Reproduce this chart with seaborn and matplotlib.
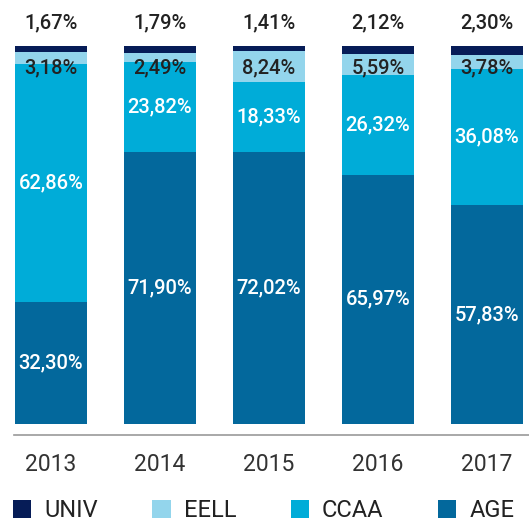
import matplotlib
matplotlib.use("Agg")
import matplotlib.pyplot as plt
import seaborn as sns
import numpy as np
import pandas as pd
from matplotlib.patches import Patch

years = ["2013", "2014", "2015", "2016", "2017"]
age = [32.30, 71.90, 72.02, 65.97, 57.83]
ccaa = [62.86, 23.82, 18.33, 26.32, 36.08]
eell = [3.18, 2.49, 8.24, 5.59, 3.78]
univ = [1.67, 1.79, 1.41, 2.12, 2.30]

series_names = ["UNIV", "EELL", "CCAA", "AGE"]
colors = {"UNIV": "#061c57", "EELL": "#93d5ec", "CCAA": "#00acd8", "AGE": "#03689c"}

sns.set_theme(style="white")
plt.rcParams["font.family"] = ["Roboto", "DejaVu Sans"]

fig = plt.figure(figsize=(5.29, 5.22), dpi=100)
ax = fig.add_axes([14/529, 1 - 435/522, 1 - 14/529, 435/522])

a = np.array(age) / 100
c = np.array(ccaa) / 100
e = np.array(eell) / 100
u = np.array(univ) / 100
cum = {
    "AGE": a,
    "CCAA": a + c,
    "EELL": a + c + e,
    "UNIV": a + c + e + u,
}

width = 0.66
for name in ["UNIV", "EELL", "CCAA", "AGE"]:
    df = pd.DataFrame({"year": years, "val": cum[name]})
    sns.barplot(data=df, x="year", y="val", color=colors[name], width=width,
                saturation=1, ax=ax, edgecolor="none", linewidth=0)

fs = 14.5
fw = "medium"
def fmt(v):
    return f"{v:.2f}".replace(".", ",") + "%"

for i in range(len(years)):
    ax.text(i, a[i] / 2, fmt(age[i]), ha="center", va="center", color="white",
            fontsize=fs, fontweight=fw)
    ax.text(i, a[i] + c[i] / 2, fmt(ccaa[i]), ha="center", va="center", color="white",
            fontsize=fs, fontweight=fw)
    ax.text(i, 0.943, fmt(eell[i]), ha="center", va="center", color="#222222",
            fontsize=fs, fontweight=fw)
    ax.text(i, 1.06, fmt(univ[i]), ha="center", va="center", color="#222222",
            fontsize=fs, fontweight=fw)

ax.set_xlim(-0.34, 4.385)
ax.set_ylim(-11/378, 424/378)
for s in ["top", "left", "right"]:
    ax.spines[s].set_visible(False)
ax.spines["bottom"].set_color("#999999")
ax.spines["bottom"].set_linewidth(1.2)
ax.set_yticks([])
ax.set_xlabel("")
ax.set_ylabel("")
ax.tick_params(axis="x", length=0, pad=13, labelsize=16.5, labelcolor="#333333")

handles = [Patch(facecolor=colors[n], edgecolor="none", label=n) for n in series_names]
fig.legend(handles=handles, loc="lower left", bbox_to_anchor=(13/529, 0.0), ncol=4,
           frameon=False, fontsize=17, handlelength=0.78, handleheight=0.78,
           handletextpad=0.55, columnspacing=2.3, borderaxespad=0, borderpad=0.0,
           labelcolor="#222222")

fig.savefig("out.png", dpi=100)
